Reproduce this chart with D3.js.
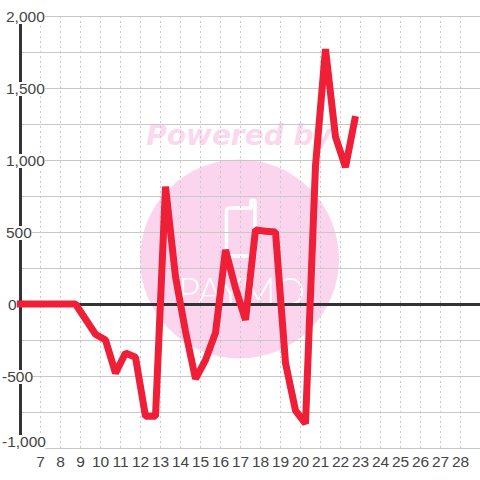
<!DOCTYPE html>
<html>
<head>
<meta charset="utf-8">
<style>
html, body { margin: 0; padding: 0; background: #fff; }
svg { display: block; font-family: "Liberation Sans", Arial, sans-serif; }
</style>
</head>
<body>
<svg width="480" height="480"></svg>
<script src="https://d3js.org/d3.v7.min.js"></script>
<script>
// days shown on the x axis, and value labels on the y axis
const days = [7, 8, 9, 10, 11, 12, 13, 14, 15, 16, 17, 18, 19, 20, 21, 22, 23, 24, 25, 26, 27, 28];
const majorTicks = [2000, 1500, 1000, 500, 0, -500, -1000];
const minorTicks = [1750, 1250, 750, 250, -250, -750];

// the series: half day steps
const when = [5.82, 6.25, 6.75, 7.25, 7.75, 8.25, 8.75, 9.75, 10.25, 10.75, 11.25, 11.75, 12.25, 12.75, 13.25, 13.75,
  14.25, 14.75, 15.25, 15.75, 16.25, 16.75, 17.25, 17.75, 18.25, 18.75, 19.25, 19.75, 20.25, 20.75, 21.25, 21.75, 22.25, 22.75];
const values = [0, 0, 0, 0, 0, 0, 0, -210, -250, -480, -340, -370, -780, -780, 815, 190, -190, -520, -390, -200, 375, 110,
  -110, 515, 505, 500, -410, -740, -830, 960, 1770, 1160, 950, 1305];

const svg = d3.select('svg');
const x = d3.scaleLinear().domain([7, 28]).range([40.5, 460.5]);
const y = d3.scaleLinear().domain([-1000, 2000]).range([448, 16]);

// watermark
const wm = svg.append('g').attr('class', 'watermark');
wm.append('circle').attr('cx', 239.5).attr('cy', 259).attr('r', 99.5).attr('fill', '#fbd5ee');
wm.append('text').attr('x', 239).attr('y', 145).attr('text-anchor', 'middle')
  .style('font', 'italic bold 28px "DejaVu Sans"').attr('fill', '#fcd8ef').text('Powered by');
wm.append('path').attr('fill', 'none').attr('stroke', '#fff').attr('stroke-width', 3.5)
  .attr('stroke-linecap', 'round').attr('stroke-linejoin', 'round')
  .attr('d', 'M248 256 H226.5 V211 Q226.5 208 230 208 H251 V202 Q251 200 253 200 Q255 200 255 202 V256');
wm.append('text').attr('x', 178).attr('y', 305)
  .attr('textLength', 127).attr('lengthAdjust', 'spacing')
  .style('font', '300 38px Lato, "Liberation Sans"')
  .attr('fill', '#fff').text('PAYMO');

// vertical dashed grid
svg.append('g').selectAll('line').data(days).join('line')
  .attr('x1', d => x(d)).attr('x2', d => x(d)).attr('y1', 16).attr('y2', 448)
  .attr('stroke', '#c8c8c8').attr('stroke-dasharray', '2,3');

// horizontal grid
svg.append('g').selectAll('line').data(majorTicks.concat(minorTicks)).join('line')
  .attr('x1', 20).attr('x2', 480).attr('y1', d => y(d) + 0.5).attr('y2', d => y(d) + 0.5)
  .attr('stroke', '#c8c8c8');

// axes
svg.append('line').attr('x1', 20.5).attr('x2', 20.5).attr('y1', y(2000)).attr('y2', y(-1000))
  .attr('stroke', '#333').attr('stroke-width', 3);
svg.append('line').attr('x1', 20).attr('x2', 480).attr('y1', y(0) + 0.5).attr('y2', y(0) + 0.5)
  .attr('stroke', '#333').attr('stroke-width', 3);

// y labels sit on a white box that cuts the axis and grid
const fmt = d3.format(',');
const labelText = d => fmt(d).replace('\u2212', '-');
const yLabels = svg.append('g').selectAll('g').data(majorTicks).join('g');
yLabels.append('rect').attr('x', 0)
  .attr('y', d => d == -1000 ? y(d) - 13 : y(d) - 6)
  .attr('height', d => d == -1000 ? 15 : 14)
  .attr('width', d => d == 0 ? 17 : (d == 500 || d == -500 ? 32 : 45)).attr('fill', '#fff');
yLabels.append('text').attr('x', d => d < 0 ? 2 : (d == 0 ? 8 : 6))
  .attr('y', d => d == -1000 ? y(d) - 1 : y(d) + 6)
  .style('font-size', '15.5px').attr('fill', '#444').text(labelText);

// x labels
svg.append('g').selectAll('text').data(days).join('text')
  .attr('x', d => x(d)).attr('y', 466.5).attr('text-anchor', 'middle')
  .style('font-size', '15.5px').attr('fill', '#444').text(d => d);

// series
const line = d3.line().x(d => x(d[0])).y(d => y(d[1]));
svg.append('path').datum(d3.zip(when, values)).attr('d', line)
  .attr('fill', 'none').attr('stroke', '#ee1f36').attr('stroke-width', 7).attr('stroke-linejoin', 'bevel');
</script>
</body>
</html>
